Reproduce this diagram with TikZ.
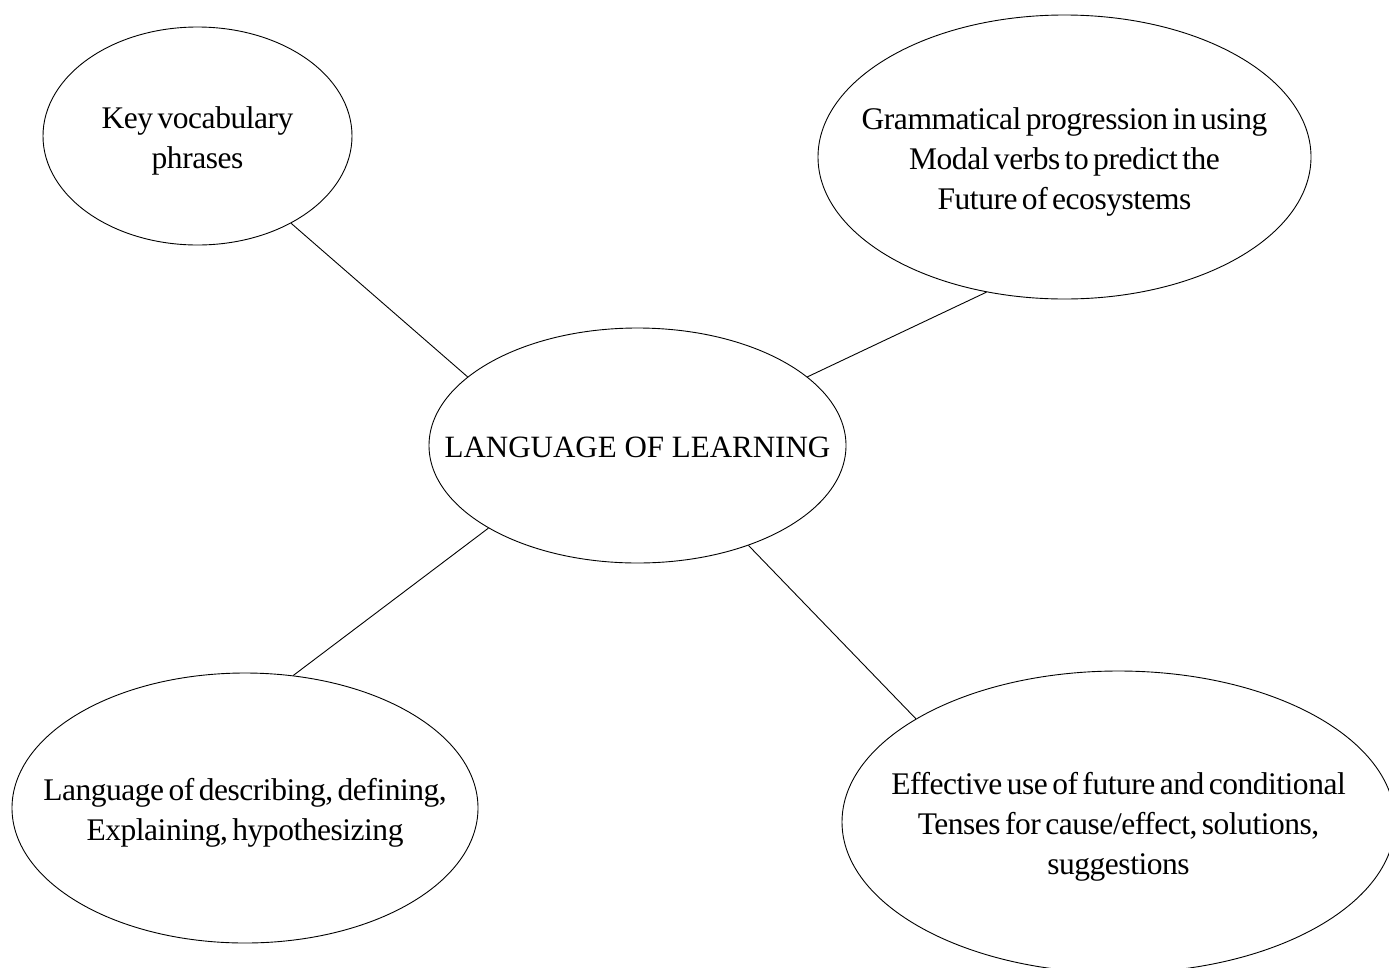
\documentclass[tikz,border=0pt]{standalone}
\usepackage{fontspec}
\setmainfont{Liberation Serif}
\newfontfamily\tightserif[WordSpace=0.6,LetterSpace=-1.5]{Liberation Serif}
\usetikzlibrary{shapes.geometric}
\begin{document}
\begin{tikzpicture}[x=1pt,y=-1pt,
  bubble/.style={ellipse,draw=black,line width=0.9pt,inner sep=0pt},
  caption/.style={align=center,inner sep=0pt,yshift=-4.5pt,
    font=\tightserif\fontsize{31.5}{40}\selectfont},
  title/.style={align=center,inner sep=0pt,yshift=-2pt,
    font=\fontsize{31}{40}\selectfont},
  link/.style={draw=black,line width=0.9pt}]
  \useasboundingbox (0,0) rectangle (1389,967);
  \clip (0,0) rectangle (1389,967);

  % concept bubbles
  \node[bubble,minimum width=309pt,minimum height=218pt] (kv) at (197.5,136) {};
  \node[caption] at (kv) {Key vocabulary\\phrases};

  \node[bubble,minimum width=493pt,minimum height=284pt] (gp) at (1064.5,157) {};
  \node[caption] at (gp) {Grammatical progression in using\\Modal verbs to predict the\\Future of ecosystems};

  \node[bubble,minimum width=417pt,minimum height=235pt] (ll) at (637.5,445.5) {};
  \node[title] at (ll) {LANGUAGE OF LEARNING};

  \node[bubble,minimum width=466pt,minimum height=270pt] (ld) at (245,808) {};
  \node[caption] at (ld) {Language of describing, defining,\\Explaining, hypothesizing};

  \node[bubble,minimum width=553pt,minimum height=302pt] (ef) at (1118.5,822) {};
  \node[caption] at (ef) {Effective use of future and conditional\\Tenses for cause/effect, solutions,\\suggestions};

  % connectors from the centre bubble
  \draw[link] (kv.-43.3) -- (ll.158.3);
  \draw[link] (ll.22.7) -- (gp.240.8);
  \draw[link] (ll.209.8) -- (ld.70.9);
  \draw[link] (ll.-42.6) -- (ef.153.8);
\end{tikzpicture}
\end{document}
